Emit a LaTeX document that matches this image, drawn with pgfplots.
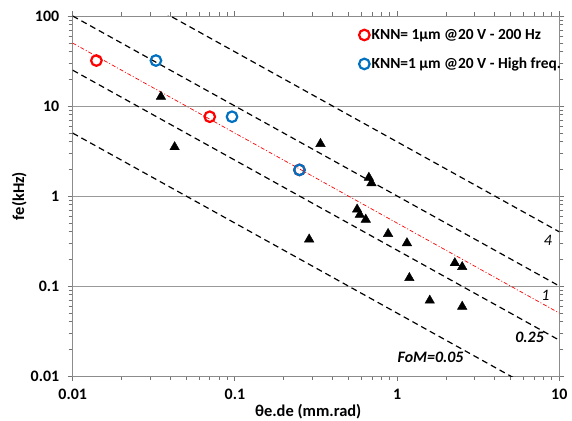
\documentclass[border=0pt]{standalone}
\usepackage{fontspec}
\setmainfont{Carlito}
\usepackage{pgfplots}
\pgfplotsset{compat=1.18}

\begin{document}
\begin{tikzpicture}
\useasboundingbox (-72.7bp,-45bp) rectangle (499.3bp,376bp);
\begin{axis}[
    at={(0,0)}, anchor=south west,
    scale only axis,
    width=486.6bp, height=360bp,
    xmode=log, ymode=log,
    xmin=0.01, xmax=10,
    ymin=0.01, ymax=100,
    xtick={0.01,0.1,1,10},
    xticklabels={0.01,0.1,1,10},
    ytick={0.01,0.1,1,10,100},
    yticklabels={0.01,0.1,1,10,100},
    ymajorgrids=true,
    grid style={gray!80, line width=0.9pt},
    axis line style={gray!90, line width=1pt},
    tick style={gray!90!black, line width=0.8pt},
    tick align=outside,
    major tick length=5bp,
    minor tick length=4bp,
    ticklabel style={font=\fontsize{16}{18}\selectfont\bfseries},
    xticklabel style={yshift=-5bp},
    yticklabel style={xshift=-5bp},
    /pgf/number format/assume math mode=true,
    xlabel={θe.de (mm.rad)},
    ylabel={fe(kHz)},
    label style={font=\fontsize{16.5}{18}\selectfont\bfseries},
    x label style={at={(axis description cs:0.484,-0.1)}, anchor=center},
    y label style={at={(axis description cs:-0.110,0.5)}, anchor=center},
    legend style={draw=none, fill=none, at={(0.582,0.975)}, anchor=north west,
        font=\fontsize{15.5}{18}\selectfont\bfseries, row sep=13bp,
        /tikz/every even column/.append style={column sep=1bp}},
    legend cell align={left},
    clip=true,
]
% FoM lines
\addplot[black, dashed, line width=1.2pt, dash pattern=on 6pt off 4pt, forget plot] coordinates {(0.01,100) (10,0.1)};
\addplot[black, dashed, line width=1.2pt, dash pattern=on 6pt off 4pt, forget plot] coordinates {(0.025,160) (10,0.4)};
\addplot[black, dashed, line width=1.2pt, dash pattern=on 6pt off 4pt, forget plot] coordinates {(0.01,25) (10,0.025)};
\addplot[black, dashed, line width=1.2pt, dash pattern=on 6pt off 4pt, forget plot] coordinates {(0.01,5) (10,0.005)};
\addplot[red, line width=0.7pt, dash pattern=on 4pt off 2pt on 1pt off 2pt, forget plot] coordinates {(0.01,50) (10,0.05)};
% other devices
\addplot[only marks, mark=triangle*, mark size=5.5pt, black, forget plot] coordinates {
(0.035,12.7) (0.0425,3.5) (0.337,3.8) (0.67,1.6) (0.695,1.39)
(0.567,0.71) (0.589,0.62) (0.641,0.547) (0.88,0.38) (1.15,0.30)
(1.19,0.123) (2.27,0.18) (2.52,0.163) (1.59,0.069) (2.52,0.059) (0.287,0.33)
};
\addplot[only marks, mark=o, mark size=5.3pt, line width=2.2pt, red!90!black, mark options={draw=red}] coordinates {
(0.014,32) (0.070,7.6) (0.25,1.95)
};
\addlegendentry{KNN= 1µm @20 V - 200 Hz}
\addplot[only marks, mark=o, mark size=5.3pt, line width=2.2pt, color={rgb,255:red,0;green,112;blue,192}] coordinates {
(0.0326,32) (0.096,7.6) (0.25,1.95)
};
\addlegendentry{KNN=1 µm @20 V - High freq.}
% line labels
\node[font=\fontsize{16}{18}\selectfont\itshape] at (axis cs:8.5,0.32) {4};
\node[font=\fontsize{16}{18}\selectfont\itshape] at (axis cs:8.2,0.079) {1};
\node[font=\fontsize{16}{18}\selectfont\bfseries\itshape] at (axis cs:6.56,0.0267) {0.25};
\node[font=\fontsize{16}{18}\selectfont\bfseries\itshape] at (axis cs:1.61,0.0163) {FoM=0.05};
\end{axis}
\end{tikzpicture}
\end{document}
